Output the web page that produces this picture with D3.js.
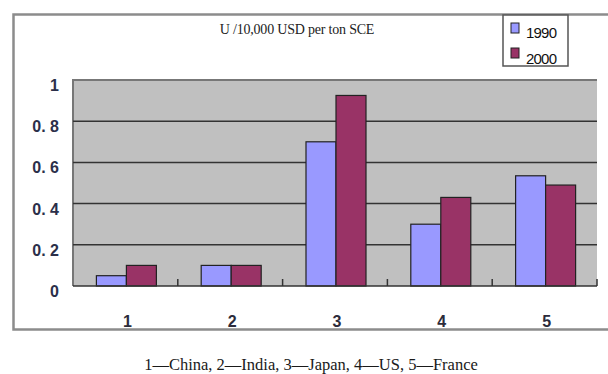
<!DOCTYPE html>
<html>
<head>
<meta charset="utf-8">
<script src="https://cdn.jsdelivr.net/npm/d3@7"></script>
<style>
  body { margin: 0; background: #fff; }
  svg { display: block; }
</style>
</head>
<body>
<svg id="svg1" width="608" height="374"></svg>
<script>
// data
var categories = ['1', '2', '3', '4', '5'];
var seriesNames = ['1990', '2000'];
var values1990 = [0.05, 0.1, 0.7, 0.3, 0.535];
var values2000 = [0.1, 0.1, 0.925, 0.43, 0.49];
var yTicks = [0, 0.2, 0.4, 0.6, 0.8, 1];
var yTickLabels = ['0', '0. 2', '0. 4', '0. 6', '0. 8', '1'];
var colors = ['#9999ff', '#993366'];

var svg = d3.select('#svg1');

var plotLeft = 73, plotRight = 597, plotTop = 80, plotBottom = 286;

var x = d3.scaleBand()
    .domain(categories)
    .range([plotLeft, plotRight]);

var xInner = d3.scaleBand()
    .domain(seriesNames)
    .range([0, 60]);

var y = d3.scaleLinear()
    .domain([0, 1])
    .range([plotBottom, plotTop]);

// outer chart frame
svg.append('path')
    .attr('d', 'M608,14.5 H13.5 V329.5 H608')
    .attr('fill', 'none')
    .attr('stroke', '#8c8c8c')
    .attr('stroke-width', 2.5);

// plot background
svg.append('rect')
    .attr('x', plotLeft)
    .attr('y', plotTop)
    .attr('width', plotRight - plotLeft)
    .attr('height', plotBottom - plotTop)
    .attr('fill', '#c0c0c0');

svg.append('path')
    .attr('d', 'M' + plotLeft + ',' + plotBottom + ' V' + plotTop + ' H' + plotRight)
    .attr('fill', 'none')
    .attr('stroke', '#777')
    .attr('stroke-width', 2);

// gridlines
svg.append('g')
    .selectAll('line')
    .data(yTicks.filter(function (d) { return d > 0 && d < 1; }))
    .enter()
    .append('line')
    .attr('x1', plotLeft)
    .attr('x2', plotRight)
    .attr('y1', function (d) { return y(d); })
    .attr('y2', function (d) { return y(d); })
    .attr('stroke', '#333')
    .attr('stroke-width', 1.5);

// bars
var rows = categories.map(function (c, i) {
    return { cat: c, vals: [values1990[i], values2000[i]] };
});

var groups = svg.append('g')
    .selectAll('g')
    .data(rows)
    .enter()
    .append('g')
    .attr('transform', function (d) {
        return 'translate(' + (x(d.cat) + x.bandwidth() / 2 - 29) + ',0)';
    });

groups.selectAll('rect')
    .data(function (d) {
        return d.vals.map(function (v, j) { return { s: seriesNames[j], v: v, j: j }; });
    })
    .enter()
    .append('rect')
    .attr('x', function (d) { return xInner(d.s); })
    .attr('y', function (d) { return y(d.v); })
    .attr('width', xInner.bandwidth())
    .attr('height', function (d) { return y(0) - y(d.v); })
    .attr('fill', function (d) { return colors[d.j]; })
    .attr('stroke', '#222')
    .attr('stroke-width', 1.2);

// x axis with small ticks at category boundaries
var xAxis = svg.append('g')
    .attr('transform', 'translate(0,' + plotBottom + ')');

xAxis.append('line')
    .attr('x1', plotLeft)
    .attr('x2', plotRight)
    .attr('stroke', '#333')
    .attr('stroke-width', 1.5);

xAxis.selectAll('.tk')
    .data(categories.slice(1).concat(['end']))
    .enter()
    .append('line')
    .attr('class', 'tk')
    .attr('x1', function (d) { return d === 'end' ? plotRight : x(d); })
    .attr('x2', function (d) { return d === 'end' ? plotRight : x(d); })
    .attr('y1', 0)
    .attr('y2', -7)
    .attr('stroke', '#333')
    .attr('stroke-width', 1.5);

svg.append('g')
    .selectAll('text')
    .data(categories)
    .enter()
    .append('text')
    .attr('x', function (d) { return x(d) + x.bandwidth() / 2 + 2; })
    .attr('y', 327)
    .attr('text-anchor', 'middle')
    .attr('font-family', 'Liberation Sans, Arial, sans-serif')
    .attr('font-weight', 'bold')
    .attr('font-size', 16)
    .attr('fill', '#2b2b3a')
    .text(function (d) { return d; });

// y labels
svg.append('g')
    .selectAll('text')
    .data(yTicks)
    .enter()
    .append('text')
    .attr('x', 59)
    .attr('y', function (d) { return y(d) + 11; })
    .attr('text-anchor', 'end')
    .attr('font-family', 'Liberation Sans, Arial, sans-serif')
    .attr('font-weight', 'bold')
    .attr('font-size', 16)
    .attr('fill', '#2b2f4a')
    .text(function (d, i) { return yTickLabels[i]; });

// title
svg.append('text')
    .attr('x', 297)
    .attr('y', 34)
    .attr('text-anchor', 'middle')
    .attr('font-family', 'Liberation Serif, Times New Roman, serif')
    .attr('font-size', 14)
    .attr('letter-spacing', -0.2)
    .attr('fill', '#222')
    .text('U  /10,000 USD per ton SCE');

// legend
var legend = svg.append('g');

legend.append('rect')
    .attr('x', 503)
    .attr('y', 15)
    .attr('width', 65)
    .attr('height', 51)
    .attr('fill', '#fff')
    .attr('stroke', '#555')
    .attr('stroke-width', 1.5);

legend.selectAll('.sw')
    .data(seriesNames)
    .enter()
    .append('rect')
    .attr('class', 'sw')
    .attr('x', 511)
    .attr('y', function (d, i) { return 23 + i * 25; })
    .attr('width', 8)
    .attr('height', 10)
    .attr('fill', function (d, i) { return colors[i]; })
    .attr('stroke', '#222')
    .attr('stroke-width', 1);

legend.selectAll('text')
    .data(seriesNames)
    .enter()
    .append('text')
    .attr('x', 526)
    .attr('y', function (d, i) { return 38 + i * 26; })
    .attr('font-family', 'Liberation Sans, Arial, sans-serif')
    .attr('font-size', 15)
    .attr('letter-spacing', -0.8)
    .attr('fill', '#111')
    .text(function (d) { return d; });

// caption below chart
svg.append('text')
    .attr('x', 311)
    .attr('y', 370)
    .attr('text-anchor', 'middle')
    .attr('font-family', 'Liberation Serif, Times New Roman, serif')
    .attr('font-size', 16.5)
    .attr('fill', '#1a1a1a')
    .text('1\u2014China, 2\u2014India, 3\u2014Japan, 4\u2014US, 5\u2014France');
</script>
</body>
</html>
